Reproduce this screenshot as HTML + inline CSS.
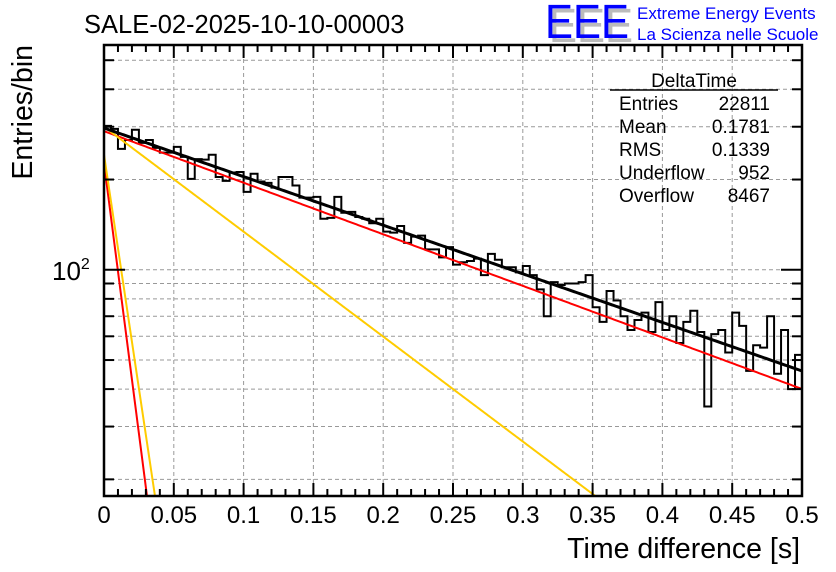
<!DOCTYPE html>
<html><head><meta charset="utf-8"><style>
html,body{margin:0;padding:0;background:#fff;}
svg{display:block;font-family:"Liberation Sans",sans-serif;}
</style></head><body>
<svg id="c" width="836" height="572" viewBox="0 0 836 572" xmlns="http://www.w3.org/2000/svg">
<rect x="0" y="0" width="836" height="572" fill="#fff"/>
<text x="84" y="33" font-size="25.5">SALE-02-2025-10-10-00003</text>
<g>
<text x="549" y="42" font-size="48" fill="#bbb" textLength="84" lengthAdjust="spacingAndGlyphs">EEE</text>
<text x="545" y="38" font-size="48" fill="#0000ff" textLength="84" lengthAdjust="spacingAndGlyphs">EEE</text>
<text x="637" y="19" font-size="17" fill="#0000ff">Extreme Energy Events</text>
<text x="637" y="40" font-size="17" fill="#0000ff">La Scienza nelle Scuole</text>
</g>
<g id="grid"></g>
<g id="marks"></g>
<g id="axes"></g>
<g font-size="19">
<text x="694" y="87" text-anchor="middle">DeltaTime</text>
<line x1="610" y1="90" x2="778" y2="90" stroke="#000" stroke-width="1.5"/>
<text x="619" y="110">Entries</text><text x="770" y="110" text-anchor="end">22811</text>
<text x="619" y="133">Mean</text><text x="770" y="133" text-anchor="end">0.1781</text>
<text x="619" y="156">RMS</text><text x="770" y="156" text-anchor="end">0.1339</text>
<text x="619" y="179">Underflow</text><text x="770" y="179" text-anchor="end">952</text>
<text x="619" y="202">Overflow</text><text x="770" y="202" text-anchor="end">8467</text>
</g>
<text x="800" y="558" font-size="28.5" text-anchor="end">Time difference [s]</text>
<text transform="translate(32,45) rotate(-90)" font-size="28.5" text-anchor="end">Entries/bin</text>
</svg>
<script>
const counts=[302,295,253,271,293,265,271,255,246,246,257,238,201,234,233,242,204,198,211,212,182,209,197,195,188,204,204,191,174,174,175,148,149,175,155,156,150,148,143,148,134,133,140,123,129,130,117,117,110,119,104,106,107,109,96,113,108,102,102,98,103,96,86,70,91,89,90,90,91,96,75,67,85,79,70,63,68,72,62,78,63,70,57,67,73,62,35,61,63,53,72,65,46,56,55,70,45,63,40,52];
const binWidth=0.005;
const xTicks=[0,0.05,0.1,0.15,0.2,0.25,0.3,0.35,0.4,0.45,0.5];
const xTickLabels=["0","0.05","0.1","0.15","0.2","0.25","0.3","0.35","0.4","0.45","0.5"];
const yTicks=[20,30,40,50,60,70,80,90,100,200,300,400,500];
const fitAmps=[297,290,227,242,300];
const fitTaus=[0.268,0.2525,0.01204,0.01393,0.1241];
const fitColors=["#000","#f00","#f00","#fc0","#fc0"];
const fitNames=["fit-total","fit-slow-red","fit-fast-red","fit-fast-yellow","fit-slow-yellow"];

const X0=104,X1=802,Y0=496,Y1=45,XMIN=0,XMAX=0.5,YMIN=17.6,YMAX=562;
const NS="http://www.w3.org/2000/svg";
function sx(v){return X0+(v-XMIN)/(XMAX-XMIN)*(X1-X0);}
function sy(v){return Y0-(Math.log10(v)-Math.log10(YMIN))/(Math.log10(YMAX)-Math.log10(YMIN))*(Y0-Y1);}
function mk(tag,attrs,parent){const e=document.createElementNS(NS,tag);for(const k in attrs)e.setAttribute(k,attrs[k]);parent.appendChild(e);return e;}
const grid=document.getElementById('grid'),marks=document.getElementById('marks'),axes=document.getElementById('axes');
xTicks.forEach(t=>{if(t>XMIN&&t<XMAX){const l=mk('line',{x1:sx(t),x2:sx(t),y1:Y1,y2:Y0,stroke:'#999','stroke-dasharray':'4,3','stroke-width':1},grid);

}});
yTicks.forEach(t=>{const l=mk('line',{x1:X0,x2:X1,y1:sy(t),y2:sy(t),stroke:'#999','stroke-dasharray':'4,3','stroke-width':1},grid);

});
const defs=mk('defs',{},marks);const cp=mk('clipPath',{id:'pc'},defs);mk('rect',{x:X0,y:Y1,width:X1-X0,height:Y0-Y1},cp);
let d='';
counts.forEach((c,i)=>{const xa=sx(i*binWidth),xb=sx((i+1)*binWidth),y=sy(c);d+=(i===0?'M'+xa+','+y:'L'+xa+','+y)+'L'+xb+','+y;});
const h=mk('path',{d:d,fill:'none',stroke:'#000','stroke-width':2,'clip-path':'url(#pc)'},marks);


[1,2,3,4,0].forEach(k=>{let p='';for(let j=0;j<=500;j++){const t=XMAX*j/500;const v=fitAmps[k]*Math.exp(-t/fitTaus[k]);if(v<YMIN*0.9)break;p+=(j?'L':'M')+sx(t).toFixed(2)+','+sy(v).toFixed(2);}
const f=mk('path',{d:p,fill:'none',stroke:fitColors[k],'stroke-width':k===0?3:2,'clip-path':'url(#pc)'},marks);

});
const fr=mk('rect',{x:X0,y:Y1,width:X1-X0,height:Y0-Y1,fill:'none',stroke:'#000','stroke-width':2.5},axes);


for(let i=0;i<=50;i++){const t=i*0.01;const major=i%5===0;const len=major?13:7;const x=sx(t);
mk('line',{x1:x,x2:x,y1:Y0,y2:Y0-len,stroke:'#000','stroke-width':2},axes);
mk('line',{x1:x,x2:x,y1:Y1,y2:Y1+len,stroke:'#000','stroke-width':2},axes);}
xTicks.forEach((t,i)=>{const tx=mk('text',{x:sx(t),y:523,'font-size':24,'text-anchor':'middle'},axes);tx.textContent=xTickLabels[i];

});
yTicks.forEach(t=>{const len=t===100?21:10;const y=sy(t);
mk('line',{x1:X0,x2:X0+len,y1:y,y2:y,stroke:'#000','stroke-width':2},axes);
mk('line',{x1:X1,x2:X1-len,y1:y,y2:y,stroke:'#000','stroke-width':2},axes);});
const yl=mk('text',{x:52,y:sy(100)+10,'font-size':26},axes);yl.innerHTML='10<tspan dy="-11" font-size="16">2</tspan>';


</script>
</body></html>
